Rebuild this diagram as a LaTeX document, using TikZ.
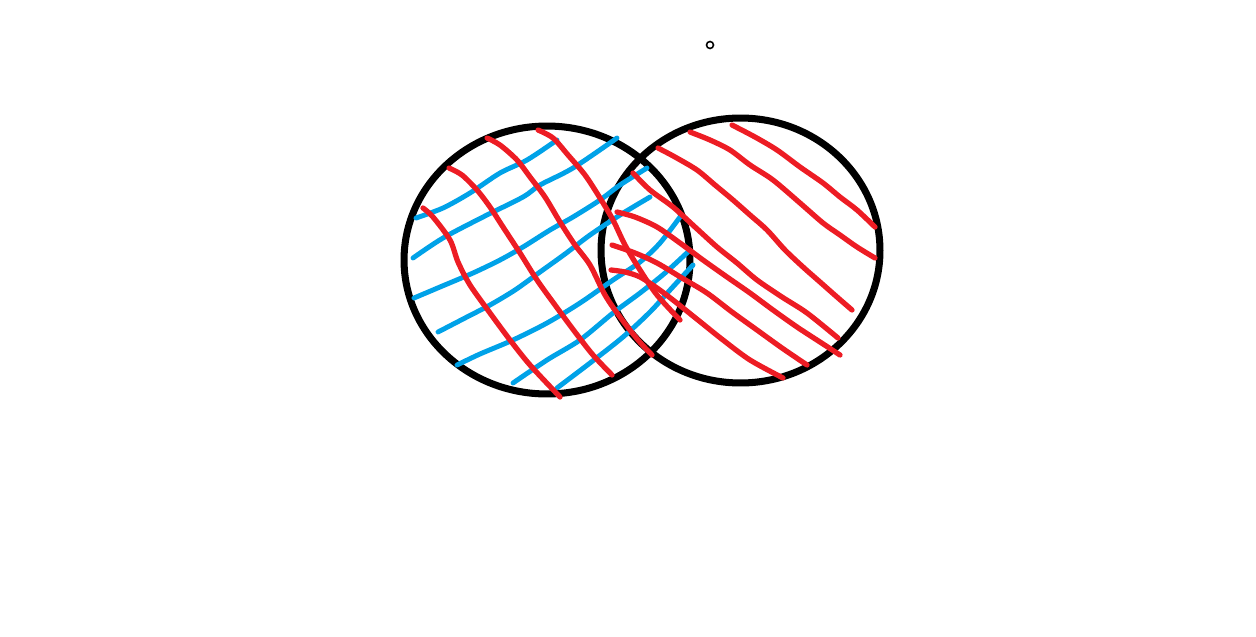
\documentclass[tikz,border=0pt]{standalone}
\definecolor{paintred}{RGB}{237,28,36}
\definecolor{paintblue}{RGB}{0,162,232}
\tikzset{
    setring/.style={line width=4pt, black},
    bluehatch/.style={line width=2.8pt, paintblue, line cap=round, line join=round},
    redhatch/.style={line width=3pt, paintred, line cap=round, line join=round}
}
\begin{document}
\begin{tikzpicture}[x=0.02cm, y=-0.02cm]
    \useasboundingbox (0,0) rectangle (1256,636);
    \coordinate (left) at (547,260);
    \coordinate (right) at (740.5,250.5);

    \draw[setring] (left) ellipse [x radius=2.86cm, y radius=2.68cm];
    \draw[setring] (right) ellipse [x radius=2.79cm, y radius=2.65cm];
    \draw[line width=0.9pt] (710,45) circle [radius=0.07cm];

    % blue strokes, left set
    \draw[bluehatch] plot[smooth] coordinates {(416,218) (443,208) (470,193) (500,173) (527,160) (557,140)};
    \draw[bluehatch] plot[smooth] coordinates {(413,258) (443,238) (483,217) (523,197) (540,185) (573,168) (617,138)};
    \draw[bluehatch] plot[smooth] coordinates {(414,298) (440,287) (473,273) (500,260) (523,247) (550,230) (573,217) (600,200) (620,185) (647,168)};
    \draw[bluehatch] plot[smooth] coordinates {(438,332) (465,318) (490,305) (515,290) (540,272) (565,254) (590,235) (620,215) (650,197)};
    \draw[bluehatch] plot[smooth] coordinates {(457,365) (480,354) (513,340) (547,323) (580,303) (613,280) (640,262) (660,243) (680,217)};
    \draw[bluehatch] plot[smooth] coordinates {(513,383) (547,360) (580,340) (613,313) (640,293) (665,273) (690,250)};
    \draw[bluehatch] plot[smooth] coordinates {(557,388) (590,363) (623,337) (650,312) (670,290) (693,265)};

    % red strokes, left set
    \draw[redhatch] plot[smooth] coordinates {(423,208) (433,217) (450,240) (458,262) (470,285) (490,313) (510,340) (530,365) (560,397)};
    \draw[redhatch] plot[smooth] coordinates {(449,168) (462,175) (477,190) (490,207) (503,227) (520,253) (537,280) (555,305) (575,332) (593,355) (612,375)};
    \draw[redhatch] plot[smooth] coordinates {(487,138) (500,145) (517,160) (530,177) (545,197) (560,222) (575,245) (590,265) (605,295) (620,317) (638,340) (652,355)};
    \draw[redhatch] plot[smooth] coordinates {(538,130) (553,138) (568,155) (585,175) (600,198) (613,220) (625,245) (640,270) (657,295) (680,320)};

    % red strokes, right set
    \draw[redhatch] plot[smooth] coordinates {(732,125) (755,137) (777,150) (800,167) (823,183) (840,197) (857,210) (875,227)};
    \draw[redhatch] plot[smooth] coordinates {(690,132) (710,140) (730,150) (750,165) (773,180) (800,203) (823,223) (840,235) (857,247) (875,258)};
    \draw[redhatch] plot[smooth] coordinates {(658,148) (675,157) (697,170) (715,185) (733,200) (750,215) (767,230) (785,250) (803,267) (820,282) (837,297) (852,310)};
    \draw[redhatch] plot[smooth] coordinates {(633,173) (650,190) (673,207) (695,227) (717,247) (737,263) (757,280) (782,297) (807,313) (838,338)};
    \draw[redhatch] plot[smooth] coordinates {(617,212) (635,217) (657,227) (680,243) (703,260) (727,277) (750,293) (773,310) (797,327) (820,342) (840,355)};
    \draw[redhatch] plot[smooth] coordinates {(612,245) (635,253) (657,263) (682,278) (707,293) (732,312) (757,330) (782,348) (807,365)};
    \draw[redhatch] plot[smooth] coordinates {(611,270) (625,272) (640,277) (657,288) (673,300) (698,320) (723,340) (750,360) (783,378)};
\end{tikzpicture}
\end{document}
